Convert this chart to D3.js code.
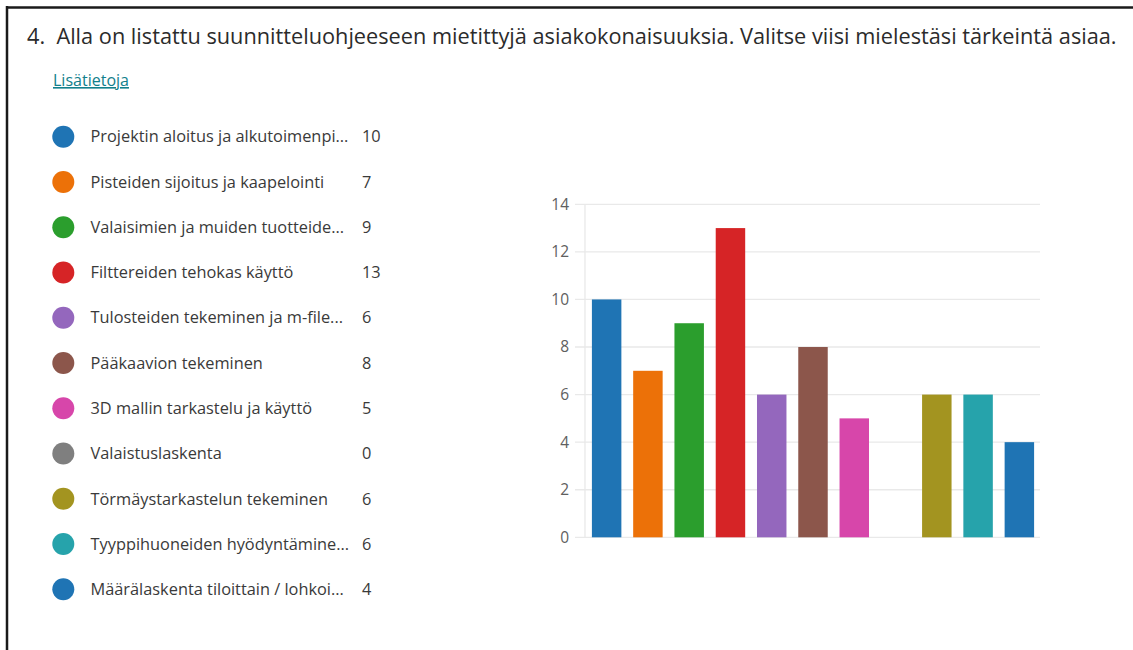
<!DOCTYPE html>
<html>
<head>
<meta charset="utf-8">
<script src="https://cdn.jsdelivr.net/npm/d3@7"></script>
<style>
  html, body { margin: 0; padding: 0; background: #fff; }
  svg { display: block; }
</style>
</head>
<body>
<svg id="chart" width="1133" height="650"></svg>
<script>
const title = "4.  Alla on listattu suunnitteluohjeeseen mietittyjä asiakokonaisuuksia. Valitse viisi mielestäsi tärkeintä asiaa.";
const linkText = "Lisätietoja";
const categories = [
  "Projektin aloitus ja alkutoimenpi...",
  "Pisteiden sijoitus ja kaapelointi",
  "Valaisimien ja muiden tuotteide...",
  "Filttereiden tehokas käyttö",
  "Tulosteiden tekeminen ja m-file...",
  "Pääkaavion tekeminen",
  "3D mallin tarkastelu ja käyttö",
  "Valaistuslaskenta",
  "Törmäystarkastelun tekeminen",
  "Tyyppihuoneiden hyödyntämine...",
  "Määrälaskenta tiloittain / lohkoi..."
];
const values = [10, 7, 9, 13, 6, 8, 5, 0, 6, 6, 4];
const colors = ["#1f74b4", "#ec7108", "#2b9e2d", "#d62426", "#9467bd", "#8c564b", "#d746aa", "#7f7f7f", "#a39420", "#26a3ab", "#1f74b4"];
const yTicks = [0, 2, 4, 6, 8, 10, 12, 14];

const font = "'Open Sans', 'Noto Sans', sans-serif";
const svg = d3.select("#chart");

// frame border
svg.append("line").attr("x1", 6).attr("x2", 1133).attr("y1", 7.5).attr("y2", 7.5)
  .attr("stroke", "#1a1a1a").attr("stroke-width", 2.5);
svg.append("line").attr("x1", 7).attr("x2", 7).attr("y1", 6).attr("y2", 650)
  .attr("stroke", "#1a1a1a").attr("stroke-width", 2.5);

// title, fitted to width
const t = svg.append("text").attr("x", 27).attr("y", 44)
  .attr("font-family", font).attr("font-size", 20).attr("fill", "#2b2b2b")
  .style("white-space", "pre").text(title);
const tw = t.node().getComputedTextLength();
t.attr("font-size", 20 * 1090 / tw);

// link
const l = svg.append("text").attr("x", 53).attr("y", 86)
  .attr("font-family", font).attr("font-size", 15).attr("fill", "#12808c")
  .attr("text-decoration", "underline").text(linkText);
const lw = l.node().getComputedTextLength();
l.attr("font-size", 15 * 76 / lw);

// legend
const ly = d3.scalePoint().domain(d3.range(categories.length)).range([136.7, 589.3]);
const leg = svg.append("g");
const rows = leg.selectAll("g").data(categories).join("g")
  .attr("transform", (d, i) => `translate(0,${ly(i)})`);
rows.append("circle").attr("cx", 63.3).attr("cy", 0).attr("r", 11)
  .attr("fill", (d, i) => colors[i]);
const labels = rows.append("text").attr("class", "lbl").attr("x", 90.5).attr("y", 0).attr("dy", "0.35em")
  .attr("font-family", font).attr("font-size", 16).attr("fill", "#3a3a3a")
  .text(d => d);
const w0 = labels.node().getComputedTextLength();
const legFs = 16 * 258 / w0;
labels.attr("font-size", legFs);
rows.append("text").attr("x", 362).attr("y", 0).attr("dy", "0.35em")
  .attr("font-family", font).attr("font-size", legFs).attr("fill", "#3a3a3a")
  .text((d, i) => values[i]);

// chart
const x = d3.scaleBand().domain(d3.range(categories.length))
  .range([586, 1040]).paddingInner(0.286).paddingOuter(0.143);
const y = d3.scaleLinear().domain([0, 14]).range([537.3, 204.3]);

const grid = svg.append("g");
grid.selectAll("line").data(yTicks).join("line")
  .attr("x1", 575).attr("x2", 1040)
  .attr("y1", d => y(d)).attr("y2", d => y(d))
  .attr("stroke", "#e9e9e9").attr("stroke-width", 1.3);
svg.append("line").attr("x1", 585).attr("x2", 585)
  .attr("y1", y(14)).attr("y2", y(0))
  .attr("stroke", "#e9e9e9").attr("stroke-width", 1.3);

const yAxis = d3.axisLeft(y).tickValues(yTicks).tickSize(0).tickPadding(0);
const ya = svg.append("g").attr("transform", "translate(569,0)").call(yAxis);
ya.select(".domain").remove();
ya.selectAll("text").attr("font-family", font).attr("font-size", 15.5).attr("fill", "#606060");

svg.append("g").selectAll("rect").data(values).join("rect")
  .attr("x", (d, i) => x(i)).attr("width", x.bandwidth())
  .attr("y", d => y(d)).attr("height", d => y(0) - y(d))
  .attr("fill", (d, i) => colors[i]);
</script>
</body>
</html>
